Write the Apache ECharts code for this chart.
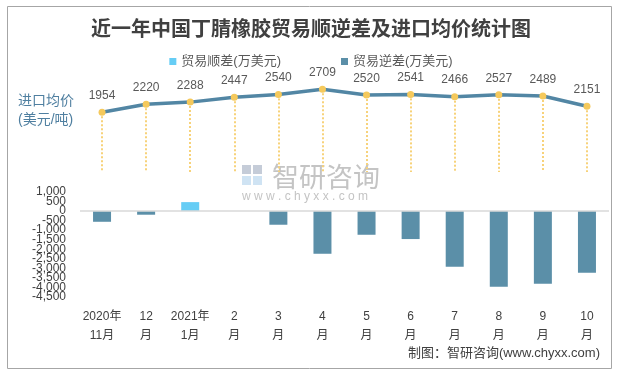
<!DOCTYPE html>
<html><head><meta charset="utf-8">
<script src="https://cdn.jsdelivr.net/npm/echarts@6/dist/echarts.min.js"></script>
<style>html,body{margin:0;padding:0;background:#fff}#c{width:622px;height:371px}</style>
</head><body><div id="c"></div>
<script>
const categories = ['2020年\n11月','12\n月','2021年\n1月','2\n月','3\n月','4\n月','5\n月','6\n月','7\n月','8\n月','9\n月','10\n月'];
const surplus = [null, null, 470, null, null, null, null, null, null, null, null, null];
const deficit = [-560, -190, null, null, -715, -2235, -1240, -1465, -2915, -3960, -3800, -3230];
const price = [1954, 2220, 2288, 2447, 2540, 2709, 2520, 2541, 2466, 2527, 2489, 2151];
// visible tick labels run from -4500 to 1000; the axis extends one step beyond each end
const barTicks = {min: -5000, max: 1500, interval: 500, firstLabel: -4500, lastLabel: 1000};

const FONT = '"Liberation Sans", "Noto Sans CJK SC", sans-serif';
const chart = echarts.init(document.getElementById('c'), null, {renderer: 'canvas'});

const dropLines = price.map((v, i) => [
  {coord: [i, v]},
  {coord: [i, 0]}
]);

chart.setOption({
  animation: false,
  textStyle: {fontFamily: FONT},
  title: {
    text: '近一年中国丁腈橡胶贸易顺逆差及进口均价统计图',
    left: 'center', top: 13,
    textStyle: {fontSize: 20, fontWeight: 'bold', color: '#404040', fontFamily: '"Noto Sans CJK SC", sans-serif'}
  },
  legend: {
    data: ['贸易顺差(万美元)', '贸易逆差(万美元)'],
    top: 50, left: 'center', icon: 'rect', itemWidth: 7, itemHeight: 7, itemGap: 60,
    textStyle: {fontSize: 13, color: '#595959', fontFamily: FONT}
  },
  graphic: [
    {type: 'rect', left: 5, top: 4, shape: {x: 0, y: 0, width: 604, height: 362},
     style: {fill: 'none', stroke: '#a6a6a6', lineWidth: 1}, silent: true, z: -10},
    {type: 'text', left: 18, top: 92, style: {text: '进口均价\n(美元/吨)', fill: '#4f7fa0', font: '14px ' + FONT, lineHeight: 19}},
    {type: 'group', left: 242, top: 163, z: -5, children: [
      {type: 'rect', shape: {x: 0, y: 2, width: 9, height: 9}, style: {fill: '#c5ccd8'}},
      {type: 'rect', shape: {x: 11, y: 2, width: 9, height: 9}, style: {fill: '#c5ccd8'}},
      {type: 'rect', shape: {x: 0, y: 13, width: 9, height: 9}, style: {fill: '#cfe3f3'}},
      {type: 'rect', shape: {x: 11, y: 13, width: 9, height: 9}, style: {fill: '#cfe3f3'}},
      {type: 'text', x: 30, y: 0, style: {text: '智研咨询', fill: '#c4c4c4', font: '27px "Noto Sans CJK SC", sans-serif'}},
      {type: 'text', x: 0, y: 28, style: {text: 'w w w . c h y x x . c o m', fill: '#c4c4c4', font: '12px ' + FONT}}
    ]},
    {type: 'text', right: 22, top: 347, style: {text: '制图：智研咨询(www.chyxx.com)', fill: '#404040', font: '13px ' + FONT}}
  ],
  grid: [
    {left: 80, right: 13, top: 80.4, height: 91.5},
    {left: 80, right: 13, top: 182.45, height: 124.1}
  ],
  xAxis: [
    {type: 'category', gridIndex: 0, data: categories, show: false, boundaryGap: true},
    {type: 'category', gridIndex: 1, data: categories, boundaryGap: true,
     axisLine: {show: false, onZero: false}, axisTick: {show: false},
     axisLabel: {interval: 0, margin: 0.5, fontSize: 12, lineHeight: 19, color: '#404040', fontFamily: FONT}}
  ],
  yAxis: [
    {type: 'value', gridIndex: 0, min: 0, max: 3000, show: false},
    {type: 'value', gridIndex: 1, min: barTicks.min, max: barTicks.max, interval: barTicks.interval,
     splitLine: {show: false}, axisLine: {show: false}, axisTick: {show: false},
     axisLabel: {margin: 14, fontSize: 12, color: '#404040', fontFamily: FONT,
       showMinLabel: false, showMaxLabel: false,
       formatter: v => (v < barTicks.firstLabel || v > barTicks.lastLabel) ? '' : v.toLocaleString('en-US')}}
  ],
  series: [
    {name: '进口均价', type: 'line', xAxisIndex: 0, yAxisIndex: 0, data: price,
     symbol: 'circle', symbolSize: 7, itemStyle: {color: '#f5c95c'},
     lineStyle: {color: '#5286a4', width: 3.5}, z: 5,
     label: {show: true, position: 'top', distance: 7, fontSize: 12, color: '#595959', fontFamily: FONT},
     markLine: {silent: true, symbol: 'none', label: {show: false},
       lineStyle: {color: '#f7d27a', type: [2, 2], width: 2}, data: dropLines, z: 1}},
    {name: '贸易顺差(万美元)', type: 'bar', xAxisIndex: 1, yAxisIndex: 1, stack: 'b', data: surplus,
     barWidth: 18, itemStyle: {color: '#66cdf5'},
     markLine: {silent: true, symbol: 'none', label: {show: false},
       lineStyle: {color: '#d9d9d9', type: 'solid', width: 1.5}, data: [{yAxis: 0}]}},
    {name: '贸易逆差(万美元)', type: 'bar', xAxisIndex: 1, yAxisIndex: 1, stack: 'b', data: deficit,
     barWidth: 18, itemStyle: {color: '#5b8fa8'}}
  ]
});
</script></body></html>
